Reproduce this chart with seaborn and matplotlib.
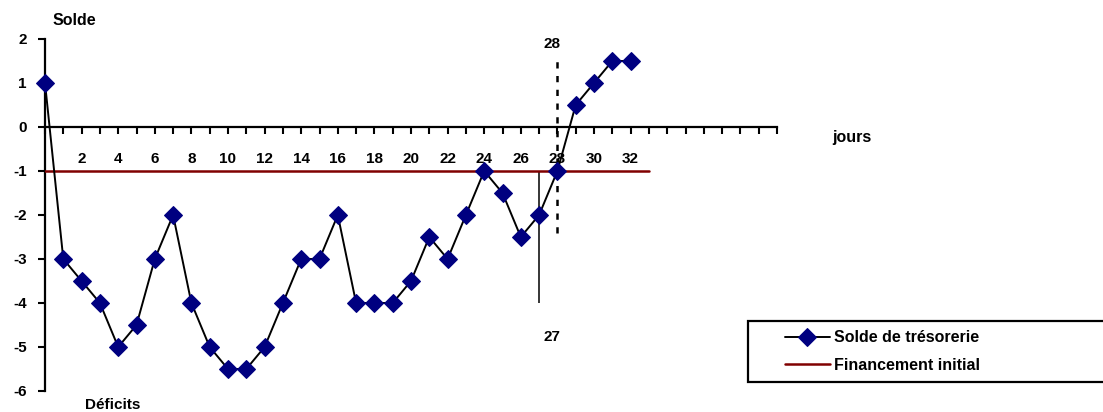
import numpy as np
import pandas as pd
import seaborn as sns
import matplotlib
matplotlib.use("Agg")
import matplotlib.pyplot as plt
from matplotlib.patches import Rectangle

# solde de trésorerie par jour
jours = list(range(0, 33))
solde = [1, -3, -3.5, -4, -5, -4.5, -3, -2, -4, -5, -5.5, -5.5, -5, -4, -3, -3,
         -2, -4, -4, -4, -3.5, -2.5, -3, -2, -1, -1.5, -2.5, -2, -1, 0.5, 1, 1.5, 1.5]

# financement initial (constant)
fin_jours = [0, 33]
financement = [-1, -1]

# jours repères
jour_27 = 27
jour_28 = 28
x_ticks = list(range(0, 41))
x_labels = [str(d) if (d % 2 == 0 and 2 <= d <= 32) else "" for d in x_ticks]
y_ticks = list(range(-6, 3))

sns.set_style("white")
plt.rcParams["font.family"] = ["Liberation Sans", "DejaVu Sans"]
plt.rcParams["font.weight"] = "bold"
plt.rcParams["axes.unicode_minus"] = False
plt.rcParams["text.color"] = "black"
plt.rcParams["xtick.color"] = "black"
plt.rcParams["ytick.color"] = "black"

fig = plt.figure(figsize=(11.03, 4.12), dpi=100)
ax = fig.add_axes([45 / 1103, 21 / 412, 732 / 1103, 352 / 412])

df = pd.DataFrame({"jour": jours, "solde": solde})
sns.lineplot(data=df, x="jour", y="solde", ax=ax, color="black", linewidth=1.4,
             marker="D", markersize=9, markerfacecolor="#000080",
             markeredgecolor="#000080", label="Solde de trésorerie", clip_on=False,
             zorder=4)
sns.lineplot(x=fin_jours, y=financement, ax=ax, color="#800000", linewidth=1.8,
             label="Financement initial", zorder=3)

# lignes repères 27 / 28
ax.vlines(jour_27, -4, -1, color="black", linewidth=1.1, zorder=2)
ax.vlines(jour_28, -2.4, 1.6, color="black", linewidth=1.8,
          linestyles=(0, (2.5, 3)), zorder=2)
ax.text(jour_28 - 0.3, 1.89, "28", ha="center", va="center", fontsize=11,
        fontweight="bold")
ax.text(jour_28 - 0.3, -4.77, "27", ha="center", va="center", fontsize=11,
        fontweight="bold")

ax.set_xlim(0, 40)
ax.set_ylim(-6, 2)
ax.spines["top"].set_visible(False)
ax.spines["right"].set_visible(False)
ax.spines["bottom"].set_position(("data", 0))
for s in ["left", "bottom"]:
    ax.spines[s].set_linewidth(1.6)
    ax.spines[s].set_color("black")

ax.set_xticks(x_ticks)
ax.set_xticklabels(x_labels)
ax.set_yticks(y_ticks)
ax.tick_params(axis="x", bottom=True, direction="out", length=5, width=1.5,
               pad=13, labelsize=11, colors="black")
ax.tick_params(axis="y", left=True, direction="out", length=5, width=1.5,
               pad=8, labelsize=11, colors="black")
for lab in ax.get_xticklabels() + ax.get_yticklabels():
    lab.set_fontweight("bold")

ax.set_xlabel("")
ax.set_ylabel("")
ax.text(1.6, 2.43, "Solde", ha="center", va="center", fontsize=11.5,
        fontweight="bold", clip_on=False)
ax.text(44.1, -0.23, "jours", ha="center", va="center", fontsize=11.5,
        fontweight="bold", clip_on=False)
ax.text(3.7, -6.32, "Déficits", ha="center", va="center", fontsize=11,
        fontweight="bold", clip_on=False)

# légende : cadre dessiné à part, qui dépasse à droite comme sur l'original
handles, labels = ax.get_legend_handles_labels()
ax.get_legend().remove()
fig.patches.append(Rectangle((748 / 1103, 30 / 412), 400 / 1103, 61 / 412,
                             transform=fig.transFigure, facecolor="white",
                             edgecolor="black", linewidth=1.6, zorder=5))
leg = fig.legend(handles, labels, loc="center left",
                 bbox_to_anchor=(780 / 1103, 60.5 / 412),
                 bbox_transform=fig.transFigure, borderaxespad=0, frameon=False,
                 handlelength=2.8, handletextpad=0.3, borderpad=0.3,
                 labelspacing=0.8, labelcolor="black",
                 prop={"size": 11.5, "weight": "bold"})
leg.set_zorder(6)

plt.savefig("out.png", dpi=100)
